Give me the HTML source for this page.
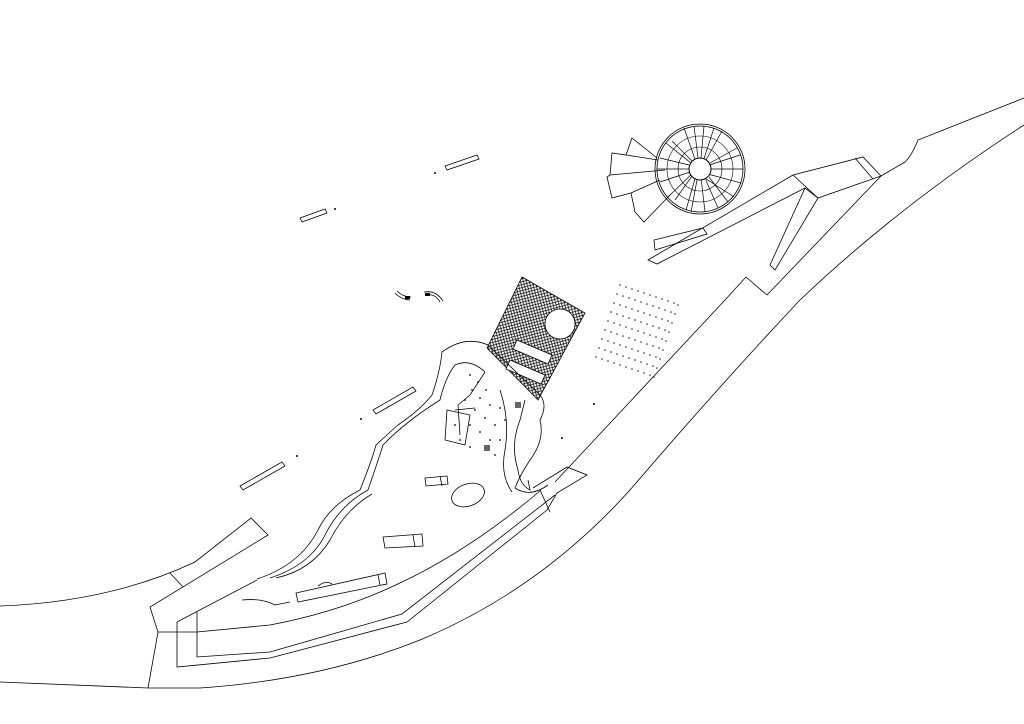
<!DOCTYPE html>
<html><head><meta charset="utf-8"><style>html,body{margin:0;padding:0;background:#fff}svg{display:block}</style></head>
<body>
<svg width="1024" height="724" viewBox="0 0 1024 724" xmlns="http://www.w3.org/2000/svg">
<defs>
<pattern id="h" width="4" height="4" patternUnits="userSpaceOnUse" patternTransform="rotate(30)">
<rect width="4" height="4" fill="#fff"/>
<path d="M0 0L4 4M4 0L0 4" stroke="#000" stroke-width="0.7"/>
</pattern>
</defs>
<g fill="none" stroke="#000" stroke-width="0.8">
<path d="M0 682 L148 688 L200 688 Q320 680 420 640 Q540 590 630 490 Q720 385 800 300 Q900 205 1024 125"/>
<path d="M1024 98 L918 140 Q912 155 905 162 L881 176"/>
<path d="M881 176 L767 295 L746 277 L725 300 L555 482"/>
<path d="M0 606 Q110 602 195 562 L251 518 L268 535 L150 607 L158 632 L148 688"/>
<path d="M170 573 L183 587"/>
<path d="M158 632 L197 632"/>
<path d="M177 622 L177 667 L270 658 L407 622 L547 510 L557 493 L587 475 L567 467 L533 488"/>
<path d="M177 622 L257 580"/>
<path d="M197 612 L197 657 L270 652 L402 614 L555 495"/>
<path d="M197 632 L270 625 Q340 612 400 583 Q470 550 540 491"/>
<path d="M540 490 L550 512"/>
<path d="M648 260 L793 175 L863 157 L881 176 L818 198 L805 188 L657 264 Z"/>
<path d="M793 175 L818 198"/>
<path d="M855 158 L873 179"/>
<path d="M818 198 L775 270 L770 265 L805 188"/>
<path d="M655 250 L654 240 L703 228 L707 234 Z"/>
<circle cx="700" cy="169" r="45"/>
<circle cx="700" cy="169" r="43"/>
<circle cx="700" cy="169" r="33" stroke-width="0.6"/>
<circle cx="700" cy="169" r="22" stroke-width="0.6"/>
<circle cx="700" cy="169" r="11" stroke-width="1"/>
<g stroke-width="0.7">
<path d="M711 169L743 169M709.6 174.5L741.5 183.2M706.2 178.9L734 197M701.3 180L705 212M695 179L686 210M690.5 175.3L668 197M689 169L657 169M690.5 162.7L666 143M695 159.1L684 128M701 158L704 126M706 160L722 131M710 163L737 148M709 177L728 202M692 176L675 200M689 165L660 158M698 158L694 126M704 158.6L714 128M709.5 165L740 155M705.5 179.4L718 208M697 180L691 212M692 161L672 141M690 172L660 182"/>
</g>
<path d="M657 158 L632 138 L626 155 L612 153 L610 175 L607 177 L612 198 L631 193 L635 212 L644 222 L670 195"/>
<path d="M610 175 L665 170 M626 155 L658 160 M631 193 L660 180"/>
<path d="M445 166 L477 155 L479 159 L447 170 Z"/>
<path d="M300 218 L325 209 L327 213 L302 222 Z"/>
<path d="M373 410 L413 387 L416 391 L376 414 Z"/>
<path d="M240 486 L282 462 L285 466 L243 490 Z"/>
<path d="M522 277 L585 313 L538 400 L487 348 Z" fill="url(#h)"/>
<circle cx="560" cy="324" r="15" fill="#fff"/>
<path d="M517 340 L552 355 L548 364 L513 349 Z" fill="#fff"/>
<path d="M510 360 L545 375 L541 384 L506 369 Z" fill="#fff"/>
<path d="M257 579 Q300 565 318 530 Q330 505 360 490 Q372 460 376 445 Q390 432 398 425 Q420 410 432 395 Q440 372 442 352 Q465 335 488 345 L540 395 Q548 405 540 420 Q545 440 530 460 Q520 475 515 488 Q530 498 548 485"/>
<path d="M270 578 Q310 565 325 535 Q340 505 368 490 Q380 455 383 445 Q405 422 440 400 Q445 378 455 365 Q470 358 485 372"/>
<path d="M276 578 Q312 570 330 540 Q345 510 372 494"/>
<path d="M485 372 L470 395 L458 405 L460 435 M455 410 L475 408"/>
<path d="M525 400 L520 420 Q510 445 518 470 Q520 485 530 490 L528 480"/>
<path d="M500 390 Q510 420 505 450 Q500 475 512 492"/>
<path d="M447 410 L470 415 L465 445 L445 440 Z"/>
<path d="M425 478 L447 476 L448 484 L426 486 Z"/>
<path d="M440 476 L442 486"/>
<ellipse cx="468" cy="495" rx="17" ry="11" transform="rotate(-20 468 495)"/>
<path d="M383 537 L422 534 L423 546 L385 548 Z"/>
<path d="M413 535 L415 547"/>
<path d="M296 593 L385 573 L387 584 L298 602 Z"/>
<path d="M378 575 L380 585"/>
<path d="M318 586 Q326 580 332 584"/>
<path d="M242 600 Q262 598 275 605 L290 602"/>
<path d="M395 293 Q402 300 410 300 M397 291 Q403 297 411 297"/>
<path d="M425 295 Q435 293 440 302 M424 292 Q436 290 443 301"/>
</g>
<g fill="#000">
<circle cx="435" cy="173" r="1"/><circle cx="335" cy="209" r="1"/>
<circle cx="361" cy="419" r="1"/><circle cx="297" cy="456" r="1"/>
<circle cx="594" cy="404" r="1"/><circle cx="562" cy="438" r="1"/>
<rect x="405" y="296" width="5" height="3"/><rect x="425" y="293" width="5" height="3"/>
<rect x="484" y="445" width="6" height="6" opacity=".6"/><rect x="515" y="402" width="6" height="6" opacity=".6"/>
</g>
<g fill="#222">
<g id="g1">
<circle cx="620" cy="285" r="0.8"/><circle cx="626" cy="287" r="0.8"/><circle cx="632" cy="289" r="0.8"/><circle cx="638" cy="291" r="0.8"/><circle cx="644" cy="293" r="0.8"/><circle cx="650" cy="295" r="0.8"/><circle cx="656" cy="297" r="0.8"/><circle cx="662" cy="299" r="0.8"/><circle cx="668" cy="301" r="0.8"/><circle cx="674" cy="303" r="0.8"/><circle cx="678" cy="305" r="0.8"/>
</g>
<use href="#g1" transform="translate(-3,9)"/><use href="#g1" transform="translate(-6,18)"/><use href="#g1" transform="translate(-9,27)"/><use href="#g1" transform="translate(-12,36)"/><use href="#g1" transform="translate(-15,45)"/><use href="#g1" transform="translate(-18,54)"/><use href="#g1" transform="translate(-21,63)"/><use href="#g1" transform="translate(-24,72)"/>
</g>
<g fill="#000">
<circle cx="470" cy="375" r="0.9"/><circle cx="478" cy="382" r="0.9"/><circle cx="486" cy="390" r="0.9"/><circle cx="472" cy="390" r="0.9"/><circle cx="480" cy="398" r="0.9"/><circle cx="490" cy="405" r="0.9"/><circle cx="465" cy="400" r="0.9"/><circle cx="475" cy="410" r="0.9"/><circle cx="485" cy="418" r="0.9"/><circle cx="495" cy="425" r="0.9"/><circle cx="470" cy="425" r="0.9"/><circle cx="480" cy="432" r="0.9"/><circle cx="490" cy="440" r="0.9"/><circle cx="460" cy="440" r="0.9"/><circle cx="470" cy="447" r="0.9"/><circle cx="495" cy="455" r="0.9"/><circle cx="500" cy="408" r="0.9"/><circle cx="505" cy="420" r="0.9"/><circle cx="455" cy="425" r="0.9"/><circle cx="500" cy="440" r="0.9"/>
</g>
</svg>
</body></html>
